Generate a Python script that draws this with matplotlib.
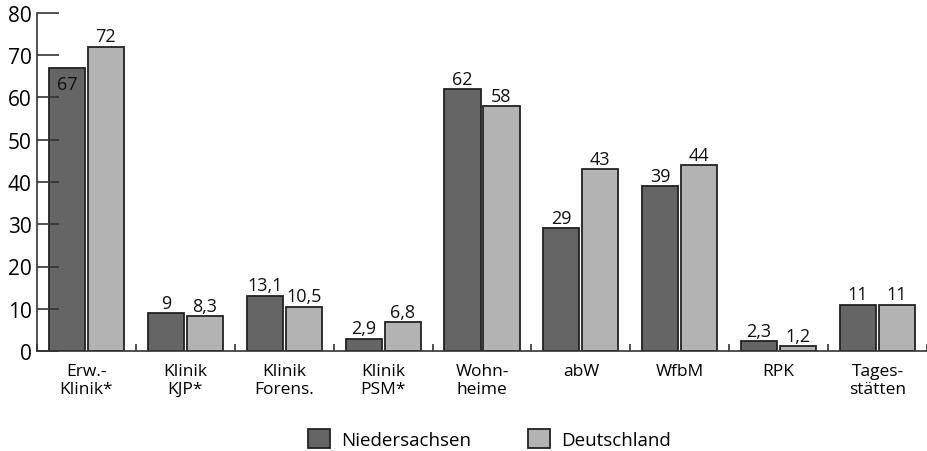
import matplotlib.pyplot as plt
import numpy as np

# DATA
categories = ["Erw.-\nKlinik*", "Klinik\nKJP*", "Klinik\nForens.", "Klinik\nPSM*",
              "Wohn-\nheime", "abW", "WfbM", "RPK", "Tages-\nstätten"]
niedersachsen = [67, 9, 13.1, 2.9, 62, 29, 39, 2.3, 11]
deutschland = [72, 8.3, 10.5, 6.8, 58, 43, 44, 1.2, 11]
series_names = ["Niedersachsen", "Deutschland"]

plt.rcParams['font.family'] = ['Open Sans', 'DejaVu Sans']

def fmt(v):
    # german decimal comma
    if float(v).is_integer():
        return str(int(v))
    return ("%.1f" % v).replace(".", ",")

fig = plt.figure(figsize=(9.27, 4.52), dpi=100)
ax = fig.add_axes([37 / 927, 100 / 452, 890 / 927, 338 / 452])

x = np.arange(len(categories))
w = 0.365
off = 0.197
edge = "#222222"
b1 = ax.bar(x - off, niedersachsen, w, color="#656565", edgecolor=edge, linewidth=1.3,
            label=series_names[0])
b2 = ax.bar(x + off, deutschland, w, color="#b3b3b3", edgecolor=edge, linewidth=1.3,
            label=series_names[1])

# VALUE LABELS
for bars, vals in ((b1, niedersachsen), (b2, deutschland)):
    for rect, v in zip(bars, vals):
        cx = rect.get_x() + rect.get_width() / 2
        if v == 67:
            ax.annotate(fmt(v), (cx, v), xytext=(0, -5), textcoords="offset points",
                        ha="center", va="top", fontsize=13, color="#111111")
        else:
            ax.annotate(fmt(v), (cx, v), xytext=(0, 1), textcoords="offset points",
                        ha="center", va="bottom", fontsize=13, color="#111111")

# AXES
ax.set_xlim(-0.5, 8.5)
ax.set_ylim(0, 80)
ax.set_yticks(np.arange(0, 81, 10))
ax.tick_params(axis="y", direction="in", length=16, width=1.2, color="#333333",
               labelsize=15, pad=4)
ax.set_xticks(x)
ax.set_xticklabels(categories, fontsize=12.5, linespacing=1.15)
ax.tick_params(axis="x", which="major", length=0, pad=9)
ax.set_xticks(np.arange(-0.5, 9, 1), minor=True)
ax.tick_params(axis="x", which="minor", direction="in", length=5, width=1.2, color="#333333")

for s in ["top", "right"]:
    ax.spines[s].set_visible(False)
for s in ["left", "bottom"]:
    ax.spines[s].set_color("#333333")
    ax.spines[s].set_linewidth(1.2)

# LEGEND
fig.legend(handles=[b1, b2], loc="upper center", bbox_to_anchor=(0.528, 0.07),
           ncol=2, frameon=False, fontsize=13.5, handlelength=1.2, handleheight=1.2,
           handletextpad=0.6, columnspacing=3.0, borderpad=0)

fig.savefig("out.png", dpi=100)
